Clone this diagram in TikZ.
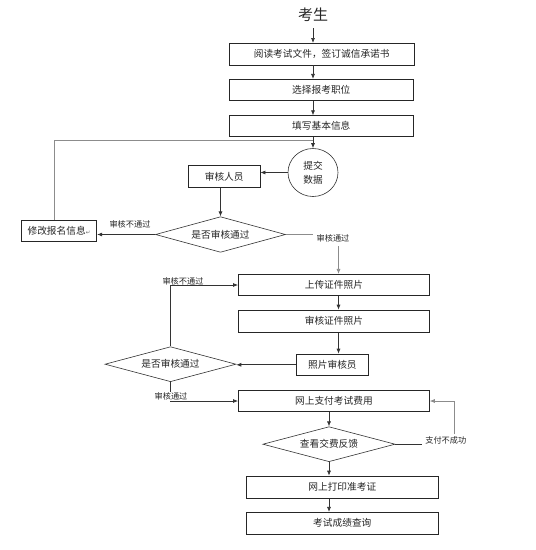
\documentclass[tikz,border=0pt]{standalone}
\usepackage{fontspec}
\setmainfont{Noto Sans CJK SC}
\newfontfamily\symfont{DejaVu Sans}
\usetikzlibrary{arrows.meta,shapes.geometric}
\begin{document}
\begin{tikzpicture}[x=1pt,y=-1pt,
  box/.style={draw=black!85,line width=0.7pt,inner sep=0pt,font=\fontsize{9.7}{11}\selectfont,text=black!85},
  dia/.style={diamond,draw=black!80,line width=0.6pt,inner sep=0pt,font=\fontsize{9.7}{11}\selectfont,text=black!85},
  lbl/.style={font=\fontsize{8.2}{9}\selectfont,inner sep=0.5pt,text=black!85},
  conn/.style={draw=black!80,line width=0.7pt},
  gconn/.style={draw=black!45,line width=0.7pt},
  arr/.style={-{Latex[length=5pt,width=4pt]}}
]
\useasboundingbox[fill=white] (0,0) rectangle (536,550);

% nodes
\node[font=\fontsize{15}{16}\selectfont,text=black!85] (k) at (313,15) {考生};
\node[box,minimum width=184.7pt,minimum height=21.7pt] (b1) at (321.7,54.2) {阅读考试文件，签订诚信承诺书};
\node[box,minimum width=184pt,minimum height=21.4pt] (b2) at (321.3,90) {选择报考职位};
\node[box,minimum width=184pt,minimum height=21pt] (b3) at (321.3,126.2) {填写基本信息};
\node[ellipse,draw=black!80,line width=0.6pt,inner sep=0pt,minimum width=50pt,minimum height=48pt,
      align=center,font=\fontsize{9.7}{14}\selectfont,text=black!85] (c) at (313,172.5) {提交\\数据};
\node[box,minimum width=71.7pt,minimum height=21.6pt] (r1) at (224.2,176.5) {审核人员};
\node[dia,aspect=3.65,minimum width=130pt,minimum height=35.6pt] (d1) at (220.5,234.5) {是否审核通过};
\node[box,minimum width=75.6pt,minimum height=21.3pt] (m) at (59,230.7) {修改报名信息{\symfont\fontsize{5.5}{6}\selectfont\color{black!60}↵}};
\node[box,minimum width=191pt,minimum height=21.4pt] (u) at (333.9,285) {上传证件照片};
\node[box,minimum width=191pt,minimum height=22.3pt] (v) at (333.9,321.2) {审核证件照片};
\node[box,minimum width=71.8pt,minimum height=21.5pt] (p) at (332.4,364.8) {照片审核员};
\node[dia,aspect=3.74,minimum width=131pt,minimum height=35pt] (d2) at (170.5,364.2) {是否审核通过};
\node[box,minimum width=191pt,minimum height=20.6pt] (f) at (333.9,401) {网上支付考试费用};
\node[dia,aspect=3.78,minimum width=132.3pt,minimum height=35pt] (d3) at (329,444.2) {查看交费反馈};
\node[box,minimum width=192pt,minimum height=22.3pt] (q) at (342.3,487.2) {网上打印准考证};
\node[box,minimum width=192pt,minimum height=22pt] (s) at (342.3,523.3) {考试成绩查询};

% helper coordinates
\coordinate (ks) at (313,28);
\coordinate (j) at (313,140.7);
\coordinate (mj) at (54.7,140.7);
\coordinate (d1e) at (312.8,234.5);
\coordinate (ud) at (338.5,246);
\coordinate (col) at (338.5,0);
\coordinate (d3e) at (422.2,444.2);
\coordinate (lp) at (454,434.3);

% labels
\node[lbl] (l1) at (130,224) {审核不通过};
\node[lbl] (l2) at (333,238.3) {审核通过};
\node[lbl] (l3) at (183,281.7) {审核不通过};
\node[lbl] (l5) at (445.8,440.3) {支付不成功};

% connectors
\draw[conn,arr] (ks) -- (ks |- b1.north);
\draw[conn,arr] (k |- b1.south) -- (k |- b2.north);
\draw[conn,arr] (k |- b2.south) -- (k |- b3.north);
\draw[conn,arr] (k |- b3.south) -- (c.north);
\draw[gconn] (j) -- (mj) -- (mj |- m.north);
\draw[conn,arr] (c.west) -- (c.west -| r1.east);
\draw[conn,arr] (d1.north |- r1.south) -- (d1.north);
\draw[conn,arr] (d1.west) -- (d1.west -| m.east);
\draw[gconn] (d1.east) -- (d1e);
\draw[gconn,arr] (ud) -- (ud |- u.north);
\draw[conn,arr] (col |- u.south) -- (col |- v.north);
\draw[conn,arr] (col |- v.south) -- (col |- p.north);
\draw[conn,arr] (p.west) -- (p.west -| d2.east);
\draw[conn,arr] (d2.north) |- (u.west);
\draw[conn,arr] (d2.south) |- (f.west);
\node[lbl,fill=white] (l4) at (171,396.5) {审核通过};
\draw[conn,arr] (d3.north |- f.south) -- (d3.north);
\draw[conn] (d3.east) -- (d3e);
\draw[gconn,arr] (lp) |- (f.east);
\draw[conn,arr] (d3.south) -- (d3.south |- q.north);
\draw[conn,arr] (d3.south |- q.south) -- (d3.south |- s.north);
\end{tikzpicture}
\end{document}
